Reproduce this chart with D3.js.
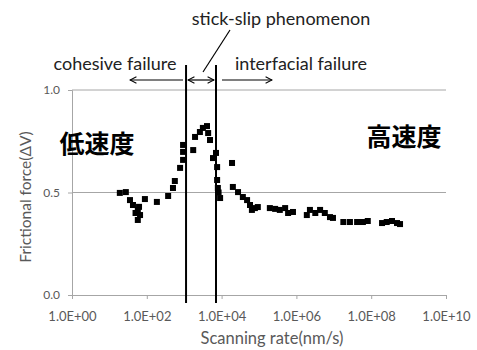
<!DOCTYPE html>
<html>
<head>
<meta charset="utf-8">
<script src="https://cdn.jsdelivr.net/npm/d3@7"></script>
<style>
  body { margin: 0; background: #fff; }
  svg { display: block; }
  text { font-family: Lato, "Open Sans", sans-serif; }
</style>
</head>
<body>
<div id="chart"></div>
<script>
const W = 477, H = 350;
const margin = {top: 90, right: 31, bottom: 55, left: 72};

// scanning rate (nm/s) and frictional force (ΔV)
const rate = [19, 27.5, 35.5, 42.7, 50, 57.5, 66, 57.5, 62, 89, 186, 372, 501, 562, 776,
  933, 933, 933, 1740, 1950, 2630, 3160, 4070, 4370, 4900,
  5890, 7080, 7590, 7590, 7940, 9120, 8300, 1.9e4, 2.0e4, 2.75e4, 3.7e4, 4.8e4, 5.75e4, 6.46e4,
  7.76e4, 9.3e4, 1.95e5, 2.7e5, 3.6e5, 5.0e5, 6.0e5, 8.1e5, 1.9e6, 2.3e6, 3.2e6, 4.3e6,
  5.75e6, 7.9e6, 9.5e6, 1.8e7, 2.7e7, 4.2e7, 6.0e7, 8.1e7, 1.95e8, 2.6e8, 3.6e8, 4.9e8, 5.9e8];
const force = [0.498, 0.502, 0.463, 0.439, 0.40, 0.415, 0.39, 0.366, 0.43, 0.468, 0.454, 0.483, 0.522, 0.556, 0.62,
  0.659, 0.698, 0.732, 0.707, 0.771, 0.795, 0.815, 0.824, 0.79, 0.756,
  0.668, 0.693, 0.624, 0.561, 0.522, 0.473, 0.50, 0.644, 0.527, 0.502, 0.478, 0.463, 0.439, 0.415,
  0.424, 0.429, 0.424, 0.42, 0.415, 0.424, 0.40, 0.405, 0.39, 0.415, 0.40, 0.415,
  0.40, 0.38, 0.376, 0.356, 0.356, 0.356, 0.356, 0.361, 0.351, 0.356, 0.361, 0.351, 0.346];

const xTicks = [1, 1e2, 1e4, 1e6, 1e8, 1e10];
const xTickLabels = ["1.0E+00", "1.0E+02", "1.0E+04", "1.0E+06", "1.0E+08", "1.0E+10"];
const yTicks = [0, 0.5, 1.0];
const boundaries = [1120, 7080];   // stick-slip region edges (nm/s)

const width = W - margin.left - margin.right,
      height = H - margin.top - margin.bottom;

const svg = d3.select("#chart").append("svg")
    .attr("width", W).attr("height", H);

const x = d3.scaleLog().domain([1, 1e10]).range([0, width]);
const y = d3.scaleLinear().domain([0, 1]).range([205, 0]);

const g = svg.append("g").attr("transform", `translate(${margin.left},${margin.top})`);

// gridlines
g.selectAll(".grid").data(yTicks.slice(1)).enter().append("line")
    .attr("x1", 0).attr("x2", width)
    .attr("y1", d => y(d)).attr("y2", d => y(d))
    .attr("stroke", "#a6a6a6").attr("stroke-width", 1);

// axes
const xAxis = g.append("g").attr("transform", `translate(0,${y(0)})`)
    .call(d3.axisBottom(x).tickValues(xTicks).tickFormat((d, i) => xTickLabels[i]).tickSize(4).tickPadding(13));
const yAxis = g.append("g")
    .call(d3.axisLeft(y).tickValues(yTicks).tickFormat(d3.format(".1f")).tickSize(4).tickPadding(8));
[xAxis, yAxis].forEach(a => {
  a.select(".domain").attr("stroke", "#a6a6a6");
  a.selectAll(".tick line").attr("stroke", "#a6a6a6");
  a.selectAll(".tick text").attr("fill", "#595959").style("font-size", "13px")
    .style("font-family", "Lato, sans-serif");
});
yAxis.selectAll(".tick text").style("font-size", "12px");

// points
const pts = rate.map((r, i) => ({r: r, f: force[i]}));
g.selectAll(".pt").data(pts).enter().append("rect")
    .attr("x", d => x(d.r) - 3).attr("y", d => y(d.f) - 3)
    .attr("width", 6).attr("height", 6).attr("fill", "#000");

// boundary lines
g.selectAll(".bnd").data(boundaries).enter().append("line")
    .attr("x1", d => x(d)).attr("x2", d => x(d))
    .attr("y1", -25).attr("y2", y(0) + 8)
    .attr("stroke", "#000").attr("stroke-width", 2);

// arrows
const defs = svg.append("defs");
defs.append("marker").attr("id", "ah").attr("viewBox", "0 0 10 10")
    .attr("refX", 9).attr("refY", 5).attr("markerWidth", 8).attr("markerHeight", 8)
    .attr("markerUnits", "userSpaceOnUse").attr("orient", "auto-start-reverse")
  .append("path").attr("d", "M1,1 L9,5 L1,9").attr("fill", "none").attr("stroke", "#000").attr("stroke-width", 1.3);

const ay = -10;
const arrows = [
  {x1: x(boundaries[0]) - 3, x2: x(boundaries[0]) - 56, both: false},
  {x1: x(boundaries[0]) + 2, x2: x(boundaries[1]) - 2, both: true},
  {x1: x(boundaries[1]) + 6, x2: x(boundaries[1]) + 56, both: false}
];
g.selectAll(".arr").data(arrows).enter().append("line")
    .attr("x1", d => d.x1).attr("x2", d => d.x2)
    .attr("y1", ay).attr("y2", ay)
    .attr("stroke", "#000").attr("stroke-width", 1.2)
    .attr("marker-end", "url(#ah)")
    .attr("marker-start", d => d.both ? "url(#ah)" : null);

// leader line for stick-slip
svg.append("line").attr("x1", 230).attr("y1", 30).attr("x2", 203).attr("y2", 72)
    .attr("stroke", "#000").attr("stroke-width", 1.2);

// annotation texts
svg.append("text").attr("x", 115).attr("y", 70).attr("text-anchor", "middle")
    .style("font-size", "18px").attr("fill", "#222").text("cohesive failure");
svg.append("text").attr("x", 301).attr("y", 70).attr("text-anchor", "middle")
    .style("font-size", "18px").attr("fill", "#222").text("interfacial failure");
svg.append("text").attr("x", 281).attr("y", 25).attr("text-anchor", "middle")
    .style("font-size", "18px").attr("fill", "#222").text("stick-slip phenomenon");

svg.append("text").attr("x", 97).attr("y", 153).attr("text-anchor", "middle")
    .style("font-size", "25px").style("font-family", "'Noto Sans CJK JP'").style("font-weight", "bold")
    .attr("fill", "#000").text("低速度");
svg.append("text").attr("x", 404).attr("y", 146).attr("text-anchor", "middle")
    .style("font-size", "25px").style("font-family", "'Noto Sans CJK JP'").style("font-weight", "bold")
    .attr("fill", "#000").text("高速度");

// axis titles
svg.append("text").attr("x", 272).attr("y", 344).attr("text-anchor", "middle")
    .style("font-size", "16.5px").attr("fill", "#595959").text("Scanning rate(nm/s)");
svg.append("text").attr("transform", "translate(31,197) rotate(-90)").attr("text-anchor", "middle")
    .style("font-size", "15.5px").attr("fill", "#595959").text("Frictional force(ΔV)");
</script>
</body>
</html>
